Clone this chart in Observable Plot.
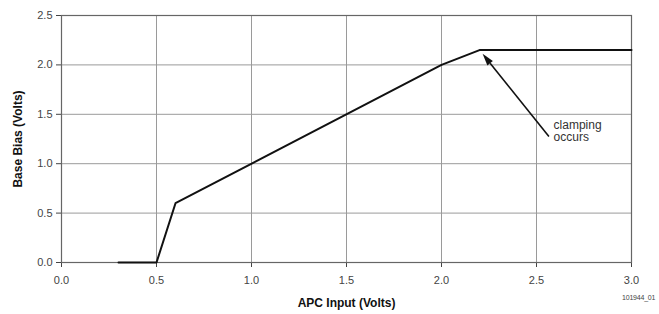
<!DOCTYPE html>
<html><head><meta charset="utf-8">
<script src="https://cdn.jsdelivr.net/npm/d3@7"></script>
<script src="https://cdn.jsdelivr.net/npm/@observablehq/plot@0.6"></script>
<style>
body{margin:0;background:#fff;}
#chart{position:relative;width:659px;height:314px;}
#fig{position:absolute;left:622px;top:294px;font:7px "Liberation Sans",Arial,sans-serif;letter-spacing:-0.2px;color:#444;white-space:nowrap;}
</style>
</head><body><div id="chart"></div>
<script>
const apcInput = [0.3, 0.5, 0.6, 2.0, 2.2, 3.0];
const baseBias = [0, 0, 0.6, 2.0, 2.15, 2.15];
const xTicks = [0, 0.5, 1.0, 1.5, 2.0, 2.5, 3.0];
const yTicks = [0, 0.5, 1.0, 1.5, 2.0, 2.5];
const annotationLines = ["clamping", "occurs"];
const annotationAt = [2.59, 1.33];
const arrowFrom = [2.568, 1.27];
const arrowTo = [2.219, 2.107];
const figureId = "101944_01";

const data = apcInput.map((x, i) => ({x, y: baseBias[i]}));
const font = '"Liberation Sans Narrow","Liberation Sans",Arial,sans-serif';

const arrowHead = (index, scales) => {
  const x1 = scales.x(arrowFrom[0]), y1 = scales.y(arrowFrom[1]);
  const x2 = scales.x(arrowTo[0]), y2 = scales.y(arrowTo[1]);
  const dx = x2 - x1, dy = y2 - y1, L = Math.hypot(dx, dy);
  const ux = dx / L, uy = dy / L, hl = 12, hw = 3.5;
  const bx = x2 - ux * hl, by = y2 - uy * hl;
  const g = d3.create("svg:g");
  g.append("path").attr("d", `M${x1},${y1}L${bx},${by}`).attr("stroke", "#111").attr("stroke-width", 1.6);
  g.append("path").attr("d", `M${x2},${y2}L${bx - uy * hw},${by + ux * hw}L${bx + uy * hw},${by - ux * hw}Z`).attr("fill", "#111");
  return g.node();
};

const chart = Plot.plot({
  width: 659, height: 314,
  marginLeft: 61, marginRight: 28, marginTop: 15, marginBottom: 52,
  style: {fontFamily: font, fontSize: "11px", color: "#444", background: "#fff"},
  x: {domain: [0, 3], ticks: xTicks, tickFormat: ".1f", tickSize: 5, tickPadding: 9,
      label: "APC Input (Volts)", labelAnchor: "center", labelOffset: 44, labelArrow: "none"},
  y: {domain: [0, 2.5], ticks: yTicks, tickFormat: ".1f", tickSize: 5, tickPadding: 4,
      label: "Base Bias (Volts)", labelAnchor: "center", labelOffset: 48, labelArrow: "none"},
  marks: [
    Plot.ruleX(xTicks, {stroke: "#9a9a9a", strokeWidth: 1, strokeOpacity: 1}),
    Plot.ruleY(yTicks, {stroke: "#9a9a9a", strokeWidth: 1, strokeOpacity: 1}),
    Plot.frame({stroke: "#666", strokeWidth: 1.2}),
    Plot.line(data, {x: "x", y: "y", stroke: "#111", strokeWidth: 2}),
    arrowHead,
    Plot.text([annotationLines.join("\n")], {x: annotationAt[0], y: annotationAt[1], text: d => d,
      textAnchor: "start", lineAnchor: "middle", fontSize: 12, fill: "#333", lineHeight: 1.05})
  ]
});
chart.querySelectorAll('[aria-label="x-axis label"] text, [aria-label="y-axis label"] text').forEach(t => {
  t.setAttribute("font-weight", "bold"); t.setAttribute("font-size", "12px"); t.setAttribute("fill", "#111");
  t.textContent = t.textContent.replace(/\s*[→↑←↓]\s*/g, "");
});
const root = document.getElementById("chart");
root.appendChild(chart);
const fig = document.createElement("div");
fig.id = "fig"; fig.textContent = figureId;
root.appendChild(fig);
</script>
</body></html>
